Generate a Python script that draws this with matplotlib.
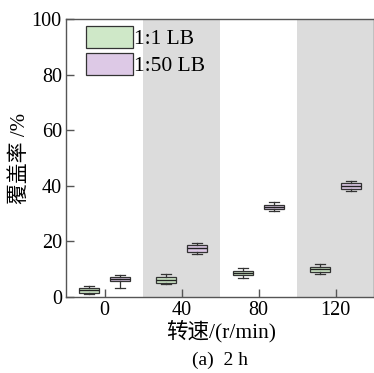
import matplotlib
matplotlib.use("Agg")
import matplotlib.pyplot as plt
from matplotlib.patches import Patch

plt.rcParams['font.family'] = ['Liberation Serif', 'Noto Sans CJK SC', 'DejaVu Sans']

speeds = [0, 40, 80, 120]
tick_labels = ['0', '40', '80', '120']
series_labels = ['1:1 LB', '1:50 LB']

g_lo = [1.0, 4.5, 7.0, 8.2]
g_q1 = [1.6, 5.2, 7.8, 8.9]
g_med = [2.4, 6.1, 8.8, 9.9]
g_q3 = [3.4, 7.1, 9.5, 10.9]
g_hi = [3.9, 8.1, 10.4, 11.8]

p_lo = [3.2, 15.5, 30.8, 38.2]
p_q1 = [5.6, 16.2, 31.8, 39.0]
p_med = [6.3, 17.5, 32.4, 40.0]
p_q3 = [7.1, 18.8, 33.2, 41.0]
p_hi = [8.0, 19.5, 34.0, 41.6]

green = '#cfe8c8'
purple = '#ddc9e6'
band = '#dcdcdc'

fig = plt.figure(figsize=(3.74, 3.73), dpi=100)
ax = fig.add_axes([66/374, 1-297/373, 1-66/374, (297-19)/373])

for c in [40, 120]:
    ax.axvspan(c-20, c+20, color=band, lw=0, zorder=0)

def stats(lo, q1, med, q3, hi):
    return [dict(whislo=a, q1=b, med=c, q3=d, whishi=e, fliers=[])
            for a, b, c, d, e in zip(lo, q1, med, q3, hi)]

edge = '#333333'
for st, off, col in [(stats(g_lo, g_q1, g_med, g_q3, g_hi), -8, green),
                     (stats(p_lo, p_q1, p_med, p_q3, p_hi), 8, purple)]:
    ax.bxp(st, positions=[s+off for s in speeds], widths=10.5, capwidths=5,
           patch_artist=True, showfliers=False, manage_ticks=False,
           boxprops=dict(facecolor=col, edgecolor=edge, linewidth=0.9),
           medianprops=dict(color='#222222', linewidth=1.0),
           whiskerprops=dict(color=edge, linewidth=0.9),
           capprops=dict(color=edge, linewidth=0.9), zorder=3)

ax.set_xlim(-20, 140)
ax.set_ylim(0, 100)
ax.set_xticks(speeds)
ax.set_xticklabels(tick_labels)
ax.set_yticks([0, 20, 40, 60, 80, 100])
ax.tick_params(direction='in', length=6, width=1, colors='#555555',
               labelcolor='black', labelsize=14.5, pad=3)
for s in ['left', 'bottom', 'top', 'right']:
    ax.spines[s].set_color('#555555')
    ax.spines[s].set_linewidth(1)

handles = [Patch(facecolor=green, edgecolor=edge, linewidth=0.9),
           Patch(facecolor=purple, edgecolor=edge, linewidth=0.9)]
ax.legend(handles, series_labels, loc='upper left', bbox_to_anchor=(0.05, 0.99),
          frameon=False, fontsize=15.5, handlelength=2.2, handleheight=1.2,
          handletextpad=0.05, labelspacing=0.15, borderpad=0.2, borderaxespad=0)

fig.text(221/374, 1-331/373, '转速/(r/min)', ha='center', va='center', fontsize=15.5)
fig.text(220/374, 1-360/373, '(a)  2 h', ha='center', va='center', fontsize=14)
fig.text(20/374, 1-158/373, '覆盖率 /%', ha='center', va='center', fontsize=15, rotation=90)

fig.savefig('out.png', dpi=100)
